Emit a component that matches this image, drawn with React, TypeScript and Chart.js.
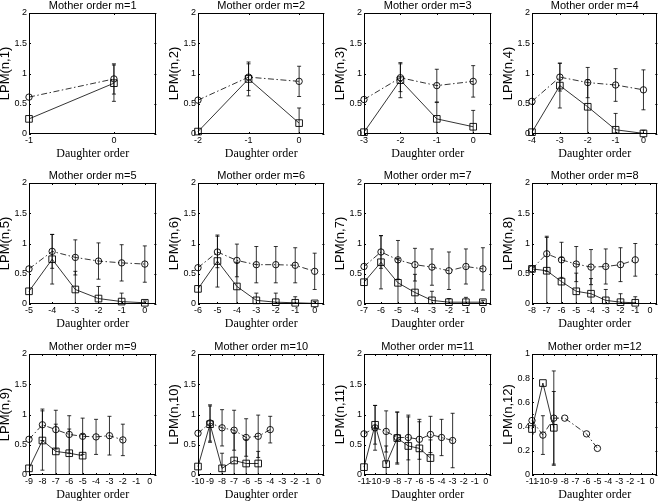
import React, { useEffect, useRef } from "react";
import { Chart, registerables } from "chart.js";

Chart.register(...registerables);

// ---------- data ----------
const motherOrders = [1, 2, 3, 4, 5, 6, 7, 8, 9, 10, 11, 12];
const daughterStart = [-1, -2, -3, -4, -5, -6, -7, -8, -9, -10, -11, -11];
const xAxisMin = [-1, -2, -3, -4, -5, -6, -7, -8, -9, -10, -11, -11];
const xAxisMax = 0.5;
const yTicksMain = [0, 0.5, 1, 1.5, 2];
const yTicksLast = [0, 0.2, 0.4, 0.6, 0.8, 1];

// dash-dot series with circle markers
const circleMeans: (number | null)[][] = [
  [0.61, 0.91],
  [0.56, 0.94, 0.87],
  [0.57, 0.93, 0.8, 0.87],
  [0.54, 0.94, 0.85, 0.81, 0.73],
  [0.58, 0.87, 0.77, 0.71, 0.68, 0.66],
  [0.6, 0.86, 0.72, 0.65, 0.65, 0.64, 0.54],
  [0.62, 0.86, 0.73, 0.65, 0.61, 0.55, 0.62, 0.58],
  [0.58, 0.83, 0.73, 0.66, 0.61, 0.62, 0.65, 0.73],
  [0.59, 0.83, 0.75, 0.67, 0.64, 0.63, 0.65, 0.58],
  [0.69, 0.86, 0.78, 0.74, 0.62, 0.64, 0.75],
  [0.68, 0.78, 0.72, 0.62, 0.62, 0.59, 0.67, 0.62, 0.57],
  [0.45, 0.33, 0.47, 0.47, null, 0.34, 0.22],
];
const circleErrors: number[][] = [
  [0, 0.25],
  [0, 0.22, 0.25],
  [0, 0.23, 0.27, 0.26],
  [0, 0.23, 0.25, 0.27, 0.33],
  [0, 0.28, 0.29, 0.3, 0.3, 0.3],
  [0, 0.26, 0.27, 0.3, 0.3, 0.29, 0.3],
  [0, 0.27, 0.32, 0.27, 0.3, 0.31, 0.29, 0.35],
  [0, 0.29, 0.29, 0.29, 0.29, 0.29, 0.28, 0.27],
  [0, 0.26, 0.32, 0.31, 0.3, 0.29, 0.32, 0.26],
  [0, 0.3, 0.3, 0.33, 0.31, 0.35, 0.22],
  [0, 0.37, 0.34, 0.42, 0.37, 0.33, 0.3, 0.3, 0.45],
  [0.05, 0.16, 0.39, 0, 0, 0, 0],
];

// solid series with square markers
const squareMeans: (number | null)[][] = [
  [0.25, 0.84],
  [0.04, 0.91, 0.18],
  [0.03, 0.89, 0.25, 0.12],
  [0.03, 0.8, 0.45, 0.07, 0.01],
  [0.21, 0.74, 0.24, 0.09, 0.04, 0.02],
  [0.25, 0.71, 0.29, 0.06, 0.03, 0.02, 0.01],
  [0.36, 0.69, 0.35, 0.19, 0.06, 0.03, 0.03, 0.03],
  [0.58, 0.55, 0.37, 0.21, 0.17, 0.06, 0.03, 0.02],
  [0.11, 0.57, 0.39, 0.36, 0.32],
  [0.14, 0.84, 0.11, 0.24, 0.19, 0.19],
  [0.13, 0.83, 0.18, 0.61, 0.48, 0.44, 0.28],
  [0.38, 0.76, 0.39],
];
const squareErrors: number[][] = [
  [0, 0.3],
  [0, 0.28, 0.25],
  [0, 0.29, 0.27, 0.27],
  [0, 0.37, 0.45, 0.27, 0.05],
  [0, 0.41, 0.3, 0.2, 0.14, 0.03],
  [0, 0.43, 0.4, 0.12, 0.15, 0.1, 0.03],
  [0, 0.44, 0.4, 0.3, 0.15, 0.06, 0.08, 0.03],
  [0, 0.55, 0.4, 0.3, 0.25, 0.18, 0.14, 0.1],
  [0, 0.49, 0.45, 0.4, 0.35],
  [0, 0.3, 0.25, 0.45, 0.4, 0.2],
  [0, 0.32, 0.3, 0.43, 0.48, 0.44, 0.3],
  [0.04, 0, 0.3],
];

// ---------- layout ----------
const colLefts = [29, 198, 364, 532];
const colWidths = [128, 127, 128, 126];
const rowTops = [13, 183, 354];
const BOX_H = 121;
const Y_AXIS_W = 30;
const X_AXIS_H = 26;
const TITLE_H = 13;
const RIGHT_PAD = 5;

const SANS = "'Liberation Sans', Arial, sans-serif";
const SERIF = "'Liberation Serif', 'Times New Roman', serif";

const errorBarPlugin = {
  id: "errorBars",
  afterDatasetsDraw(chart: any) {
    const { ctx, chartArea } = chart;
    const xs = chart.scales.x;
    const ys = chart.scales.y;
    ctx.save();
    ctx.beginPath();
    ctx.rect(chartArea.left, chartArea.top, chartArea.right - chartArea.left, chartArea.bottom - chartArea.top);
    ctx.clip();
    ctx.strokeStyle = "#000";
    ctx.lineWidth = 0.8;
    ctx.setLineDash([]);
    chart.data.datasets.forEach((ds: any) => {
      const errs: number[] = ds.errors || [];
      ds.data.forEach((p: any, j: number) => {
        const e = errs[j];
        if (p.y == null || !e) return;
        const x = xs.getPixelForValue(p.x);
        const y1 = ys.getPixelForValue(p.y - e);
        const y2 = ys.getPixelForValue(p.y + e);
        ctx.beginPath();
        ctx.moveTo(x, y1);
        ctx.lineTo(x, y2);
        ctx.moveTo(x - 2, y1);
        ctx.lineTo(x + 2, y1);
        ctx.moveTo(x - 2, y2);
        ctx.lineTo(x + 2, y2);
        ctx.stroke();
      });
    });
    ctx.restore();
  },
};

const boxPlugin = {
  id: "matlabBox",
  afterDraw(chart: any) {
    const { ctx, chartArea } = chart;
    const { left, top, right, bottom } = chartArea;
    const xs = chart.scales.x;
    const ys = chart.scales.y;
    ctx.save();
    ctx.strokeStyle = "#000";
    ctx.lineWidth = 1;
    ctx.setLineDash([]);
    ctx.strokeRect(Math.round(left) + 0.5, Math.round(top) + 0.5, Math.round(right - left) - 1, Math.round(bottom - top) - 1);
    const TL = 2;
    ctx.beginPath();
    xs.ticks.forEach((t: any) => {
      const x = Math.round(xs.getPixelForValue(t.value)) + 0.5;
      ctx.moveTo(x, bottom);
      ctx.lineTo(x, bottom - TL);
      ctx.moveTo(x, top);
      ctx.lineTo(x, top + TL);
    });
    ys.ticks.forEach((t: any) => {
      const y = Math.round(ys.getPixelForValue(t.value)) + 0.5;
      ctx.moveTo(left, y);
      ctx.lineTo(left + TL, y);
      ctx.moveTo(right, y);
      ctx.lineTo(right - TL, y);
    });
    ctx.stroke();
    ctx.restore();
  },
};

function Panel({ idx }: { idx: number }) {
  const ref = useRef<HTMLCanvasElement>(null);
  const row = Math.floor(idx / 4);
  const col = idx % 4;
  const W = colWidths[col];
  const cw = Y_AXIS_W + W + RIGHT_PAD;
  const ch = TITLE_H + BOX_H + X_AXIS_H;
  const left = colLefts[col] - Y_AXIS_W;
  const top = rowTops[row] - TITLE_H;

  useEffect(() => {
    if (!ref.current) return;
    const m = motherOrders[idx];
    const start = daughterStart[idx];
    const circ = circleMeans[idx].map((v, i) => ({ x: start + i, y: v }));
    const sq = squareMeans[idx].map((v, i) => ({ x: start + i, y: v }));
    const xTicks: number[] = [];
    for (let v = xAxisMin[idx]; v <= 0; v++) xTicks.push(v);
    const yTicks = idx === 11 ? yTicksLast : yTicksMain;
    const yMax = yTicks[yTicks.length - 1];

    const chart = new Chart(ref.current, {
      type: "line",
      data: {
        datasets: [
          {
            data: sq,
            errors: squareErrors[idx],
            borderColor: "#000",
            borderWidth: 0.8,
            pointStyle: "rect",
            pointRadius: 4.7,
            pointBorderColor: "#000",
            pointBorderWidth: 0.9,
            pointBackgroundColor: "rgba(0,0,0,0)",
            spanGaps: true,
            clip: false,
            tension: 0,
          } as any,
          {
            data: circ,
            errors: circleErrors[idx],
            borderColor: "#000",
            borderWidth: 0.8,
            borderDash: [6, 2.5, 1.5, 2.5],
            pointStyle: "circle",
            pointRadius: 3.2,
            pointBorderColor: "#000",
            pointBorderWidth: 0.9,
            pointBackgroundColor: "rgba(0,0,0,0)",
            spanGaps: true,
            clip: false,
            tension: 0,
          } as any,
        ],
      },
      options: {
        responsive: false,
        animation: false,
        devicePixelRatio: 1,
        layout: { padding: { left: 0, top: 0, right: RIGHT_PAD, bottom: 0 } },
        plugins: {
          legend: { display: false },
          tooltip: { enabled: false },
          title: {
            display: true,
            text: `Mother order m=${m}`,
            color: "#000",
            fullSize: false,
            font: { family: SANS, size: 11, weight: "normal", lineHeight: 1 },
            padding: { top: 0, bottom: 2 },
          },
        },
        scales: {
          x: {
            type: "linear",
            min: xAxisMin[idx],
            max: xAxisMax,
            grid: { display: false, drawTicks: false },
            border: { display: false },
            afterBuildTicks: (s: any) => {
              s.ticks = xTicks.map((v) => ({ value: v }));
            },
            afterFit: (s: any) => {
              s.height = X_AXIS_H;
            },
            ticks: {
              autoSkip: false,
              maxRotation: 0,
              minRotation: 0,
              padding: 1,
              color: "#000",
              font: { family: SANS, size: 9 },
              callback: (v: any) => String(v),
            },
            title: {
              display: true,
              text: "Daughter order",
              color: "#000",
              font: { family: SERIF, size: 12, lineHeight: 1 },
              padding: { top: 0, bottom: 0.5 },
            },
          },
          y: {
            type: "linear",
            min: 0,
            max: yMax,
            grid: { display: false, drawTicks: false },
            border: { display: false },
            afterBuildTicks: (s: any) => {
              s.ticks = yTicks.map((v) => ({ value: v }));
            },
            afterFit: (s: any) => {
              s.width = Y_AXIS_W;
            },
            ticks: {
              padding: 2,
              color: "#000",
              font: { family: SANS, size: 9 },
              callback: (v: any) => String(v),
            },
            title: {
              display: true,
              text: `LPM(n,${m})`,
              color: "#000",
              font: { family: SANS, size: 13, lineHeight: 1 },
              padding: { top: 0, bottom: 0 },
            },
          },
        },
      } as any,
      plugins: [errorBarPlugin, boxPlugin],
    });
    return () => chart.destroy();
  }, [idx]);

  return (
    <canvas
      ref={ref}
      width={cw}
      height={ch}
      style={{ position: "absolute", left, top, width: cw, height: ch, display: "block" }}
    />
  );
}

export default function App() {
  return (
    <div
      style={{
        position: "absolute",
        left: 0,
        top: 0,
        width: 660,
        height: 501,
        background: "#fff",
        overflow: "hidden",
      }}
    >
      {motherOrders.map((_, i) => (
        <Panel key={i} idx={i} />
      ))}
    </div>
  );
}
